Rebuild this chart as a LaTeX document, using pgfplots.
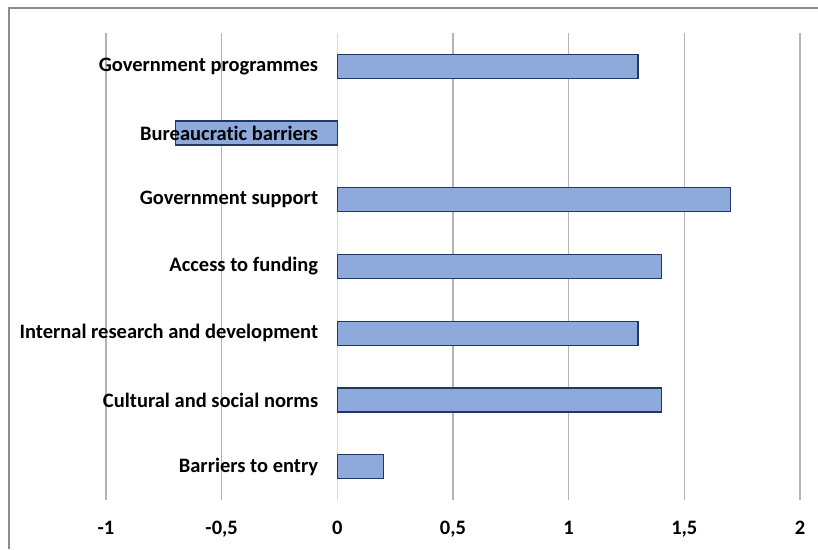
\documentclass[border=0pt]{standalone}
\usepackage{pgfplots}
\pgfplotsset{compat=1.18}
\usepackage{fontspec}
\setmainfont[Ligatures=NoCommon]{Carlito}
\definecolor{barfill}{HTML}{8EA9DB}
\definecolor{baredge}{HTML}{203864}
\definecolor{gridc}{HTML}{B3B3B3}
\definecolor{gridz}{HTML}{D9D9D9}
\definecolor{framec}{HTML}{8C8C8C}
\begin{document}
\begin{tikzpicture}[x=1pt,y=1pt]
\path[use as bounding box] (0,0) rectangle (818,549);
\draw[framec, line width=1.2pt] (9,0) -- (9,541) -- (818,541);
\begin{axis}[
  at={(106pt,49pt)}, anchor=south west,
  scale only axis, width=694pt, height=467pt,
  xmin=-1, xmax=2, ymin=-0.5, ymax=6.5,
  xtick={-1,-0.5,0.5,1,1.5,2},
  xticklabels={-1,{-0,5},{0,5},1,{1,5},2},
  extra x ticks={0}, extra x tick labels={0},
  extra x tick style={grid style={gridz, line width=1.2pt}},
  ytick=\empty,
  xmajorgrids, grid style={gridc, line width=1.2pt},
  axis line style={draw=none}, major tick length=0pt,
  tick label style={font=\fontsize{20.5}{24}\selectfont\bfseries},
  xticklabel style={yshift=-18pt},
  clip=false,
]
\addplot[xbar, bar width=0.36, fill=barfill, draw=baredge, line width=1.4pt] coordinates {(0.2,0) (1.4,1) (1.3,2) (1.4,3) (1.7,4) (-0.7,5) (1.3,6)};
\addplot[draw=none, mark=none, nodes near coords, point meta=explicit symbolic,
  every node near coord/.style={anchor=east, inner sep=0pt, xshift=-19pt, font=\fontsize{20.5}{24}\selectfont\bfseries, text=black}]
  coordinates {(0,0) [Barriers to entry] (0,1) [Cultural and social norms] (0,2) [Internal research and development] (0,3) [Access to funding] (0,4) [Government support] (0,5) [Bureaucratic barriers] (0,6) [Government programmes]};
\end{axis}
\end{tikzpicture}
\end{document}
